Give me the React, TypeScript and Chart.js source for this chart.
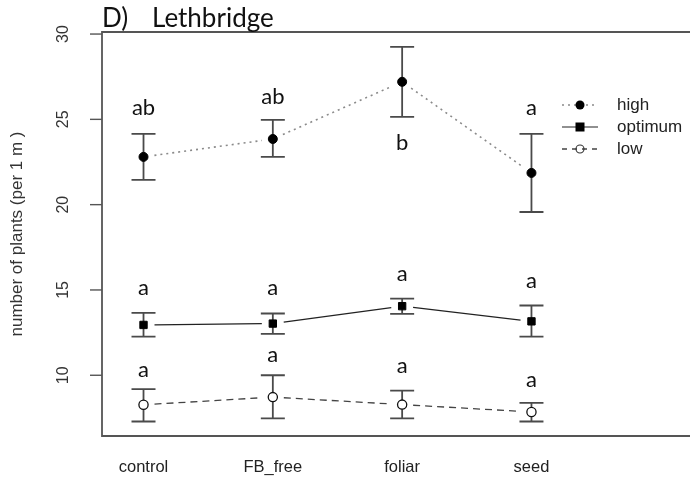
import React, { useEffect, useRef } from "react";
import { Chart, registerables } from "chart.js";

Chart.register(...registerables);

const categories = ["control", "FB_free", "foliar", "seed"];
const seriesNames = ["high", "optimum", "low"];

const highMean = [22.8, 23.85, 27.2, 21.86];
const highLower = [21.45, 22.8, 25.14, 19.57];
const highUpper = [24.15, 24.97, 29.25, 24.15];

const optMean = [12.95, 13.03, 14.05, 13.16];
const optLower = [12.27, 12.43, 13.6, 12.27];
const optUpper = [13.66, 13.62, 14.49, 14.09];

const lowMean = [8.27, 8.72, 8.28, 7.85];
const lowLower = [7.29, 7.47, 7.47, 7.29];
const lowUpper = [9.19, 10.0, 9.1, 8.38];

const highLetters = ["ab", "ab", "b", "a"];
const highLetterY = [25.65, 26.3, 23.62, 25.67];
const optLetters = ["a", "a", "a", "a"];
const optLetterY = [15.1, 15.1, 15.95, 15.54];
const lowLetters = ["a", "a", "a", "a"];
const lowLetterY = [10.3, 11.18, 10.53, 9.71];

const yTicks = [10, 15, 20, 25, 30];
const yMin = 6.44;
const yMax = 30.12;
const xMin = -0.321;
const xMax = 4.178;

const titlePrefix = "D)";
const titleText = "Lethbridge";
const yTitle = "number of plants (per 1 m )";

const toPts = (arr: number[]) => arr.map((v, i) => ({ x: i, y: v }));

const lineStyles = [
  { color: "#8a8a8a", dash: [2, 4], width: 1.6 },
  { color: "#222", dash: [] as number[], width: 1.2 },
  { color: "#444", dash: [7, 5], width: 1.3 },
];

export default function App() {
  const ref = useRef<HTMLCanvasElement | null>(null);

  useEffect(() => {
    const canvas = ref.current;
    if (!canvas) return;

    const meanSets = [highMean, optMean, lowMean];
    const errSets = [
      { lo: highLower, hi: highUpper },
      { lo: optLower, hi: optUpper },
      { lo: lowLower, hi: lowUpper },
    ];
    const letterSets = [
      { t: highLetters, y: highLetterY },
      { t: optLetters, y: optLetterY },
      { t: lowLetters, y: lowLetterY },
    ];

    const plugin = {
      id: "rstyle",
      beforeDatasetsDraw(chart: any) {
        const ctx = chart.ctx;
        const xs = chart.scales.x;
        const ys = chart.scales.y;
        const area = chart.chartArea;
        ctx.save();
        // box
        ctx.strokeStyle = "#555";
        ctx.lineWidth = 1.8;
        ctx.beginPath();
        ctx.moveTo(chart.width, area.top);
        ctx.lineTo(area.left, area.top);
        ctx.lineTo(area.left, area.bottom);
        ctx.lineTo(chart.width, area.bottom);
        ctx.stroke();
        // y ticks
        ctx.lineWidth = 1.4;
        ctx.fillStyle = "#333";
        ctx.font = "16px 'Liberation Sans', Arial, sans-serif";
        yTicks.forEach((t) => {
          const py = ys.getPixelForValue(t);
          ctx.beginPath();
          ctx.moveTo(area.left - 12, py);
          ctx.lineTo(area.left, py);
          ctx.stroke();
          ctx.save();
          ctx.translate(area.left - 38, py);
          ctx.rotate(-Math.PI / 2);
          ctx.textAlign = "center";
          ctx.textBaseline = "middle";
          ctx.fillText(String(t), 0, 0);
          ctx.restore();
        });
        // y title
        ctx.save();
        ctx.translate(17.5, (area.top + area.bottom) / 2);
        ctx.rotate(-Math.PI / 2);
        ctx.textAlign = "center";
        ctx.textBaseline = "middle";
        ctx.fillStyle = "#333";
        ctx.font = "17px 'Liberation Sans', Arial, sans-serif";
        ctx.fillText(yTitle, 0, 0);
        ctx.restore();
        // category labels
        ctx.fillStyle = "#222";
        ctx.font = "16.5px 'Liberation Sans', Arial, sans-serif";
        ctx.textAlign = "center";
        ctx.textBaseline = "middle";
        categories.forEach((c, i) => {
          ctx.fillText(c, xs.getPixelForValue(i), area.bottom + 31);
        });
        // title
        ctx.fillStyle = "#111";
        ctx.font = "26px Lato, 'Open Sans', sans-serif";
        ctx.textAlign = "left";
        ctx.textBaseline = "alphabetic";
        ctx.fillText(titlePrefix, area.left, area.top - 5);
        ctx.fillText(titleText, area.left + 50, area.top - 5);
        // connecting lines with gaps near points (R type="b")
        const gap = 11;
        meanSets.forEach((arr, k) => {
          const st = lineStyles[k];
          ctx.save();
          ctx.strokeStyle = st.color;
          ctx.lineWidth = st.width;
          ctx.setLineDash(st.dash);
          for (let i = 0; i < arr.length - 1; i++) {
            const x1 = xs.getPixelForValue(i);
            const y1 = ys.getPixelForValue(arr[i]);
            const x2 = xs.getPixelForValue(i + 1);
            const y2 = ys.getPixelForValue(arr[i + 1]);
            const len = Math.hypot(x2 - x1, y2 - y1);
            const ux = (x2 - x1) / len;
            const uy = (y2 - y1) / len;
            ctx.beginPath();
            ctx.moveTo(x1 + ux * gap, y1 + uy * gap);
            ctx.lineTo(x2 - ux * gap, y2 - uy * gap);
            ctx.stroke();
          }
          ctx.restore();
        });
        // error bars
        ctx.strokeStyle = "#4a4a4a";
        ctx.lineWidth = 1.8;
        errSets.forEach((s) => {
          s.lo.forEach((lo, i) => {
            const px = xs.getPixelForValue(i);
            const y1 = ys.getPixelForValue(lo);
            const y2 = ys.getPixelForValue(s.hi[i]);
            ctx.beginPath();
            ctx.moveTo(px, y1);
            ctx.lineTo(px, y2);
            ctx.moveTo(px - 12, y1);
            ctx.lineTo(px + 12, y1);
            ctx.moveTo(px - 12, y2);
            ctx.lineTo(px + 12, y2);
            ctx.stroke();
          });
        });
        // letters
        ctx.fillStyle = "#111";
        ctx.font = "22px Lato, 'Open Sans', sans-serif";
        ctx.textAlign = "center";
        ctx.textBaseline = "middle";
        letterSets.forEach((s) => {
          s.t.forEach((t, i) => {
            ctx.fillText(t, xs.getPixelForValue(i), ys.getPixelForValue(s.y[i]));
          });
        });
        // legend
        const lx1 = 562;
        const lx2 = 598;
        const lxm = (lx1 + lx2) / 2;
        const ly0 = 105;
        const lstep = 22;
        ctx.font = "17px 'Liberation Sans', Arial, sans-serif";
        ctx.textAlign = "left";
        ctx.textBaseline = "middle";
        seriesNames.forEach((n, k) => {
          const ly = ly0 + k * lstep;
          const st = lineStyles[k];
          ctx.save();
          ctx.strokeStyle = st.color;
          ctx.lineWidth = st.width;
          ctx.setLineDash(k === 2 ? [5, 5] : st.dash);
          ctx.beginPath();
          ctx.moveTo(lx1, ly);
          ctx.lineTo(lx2, ly);
          ctx.stroke();
          ctx.setLineDash([]);
          ctx.fillStyle = "#000";
          if (k === 0) {
            ctx.beginPath();
            ctx.arc(lxm, ly, 4.5, 0, Math.PI * 2);
            ctx.fill();
          } else if (k === 1) {
            ctx.fillRect(lxm - 4.5, ly - 4.5, 9, 9);
          } else {
            ctx.strokeStyle = "#333";
            ctx.lineWidth = 1.1;
            ctx.beginPath();
            ctx.arc(lxm, ly, 4, 0, Math.PI * 2);
            ctx.stroke();
          }
          ctx.restore();
          ctx.fillStyle = "#222";
          ctx.fillText(n, 617, ly);
        });
        ctx.restore();
      },
    };

    const chart = new Chart(canvas, {
      type: "line",
      data: {
        datasets: [
          {
            label: seriesNames[0],
            data: toPts(highMean),
            showLine: false,
            pointStyle: "circle",
            pointRadius: 4.5,
            pointBackgroundColor: "#000",
            pointBorderColor: "#000",
            pointBorderWidth: 1,
          },
          {
            label: seriesNames[1],
            data: toPts(optMean),
            showLine: false,
            pointStyle: "rect",
            pointRadius: 5.2,
            pointBackgroundColor: "#000",
            pointBorderColor: "#000",
            pointBorderWidth: 1,
          },
          {
            label: seriesNames[2],
            data: toPts(lowMean),
            showLine: false,
            pointStyle: "circle",
            pointRadius: 4.6,
            pointBackgroundColor: "#fff",
            pointBorderColor: "#111",
            pointBorderWidth: 1.3,
          },
        ],
      },
      options: {
        responsive: false,
        animation: false,
        layout: { padding: { left: 102, top: 32, right: 0, bottom: 46 } },
        plugins: { legend: { display: false }, tooltip: { enabled: false } },
        scales: {
          x: { type: "linear", min: xMin, max: xMax, display: false },
          y: { type: "linear", min: yMin, max: yMax, display: false },
        },
      },
      plugins: [plugin],
    } as any);

    return () => chart.destroy();
  }, []);

  return (
    <div style={{ position: "fixed", left: 0, top: 0, width: 690, height: 482, background: "#fff" }}>
      <canvas ref={ref} width={690} height={482} style={{ width: 690, height: 482 }} />
    </div>
  );
}
